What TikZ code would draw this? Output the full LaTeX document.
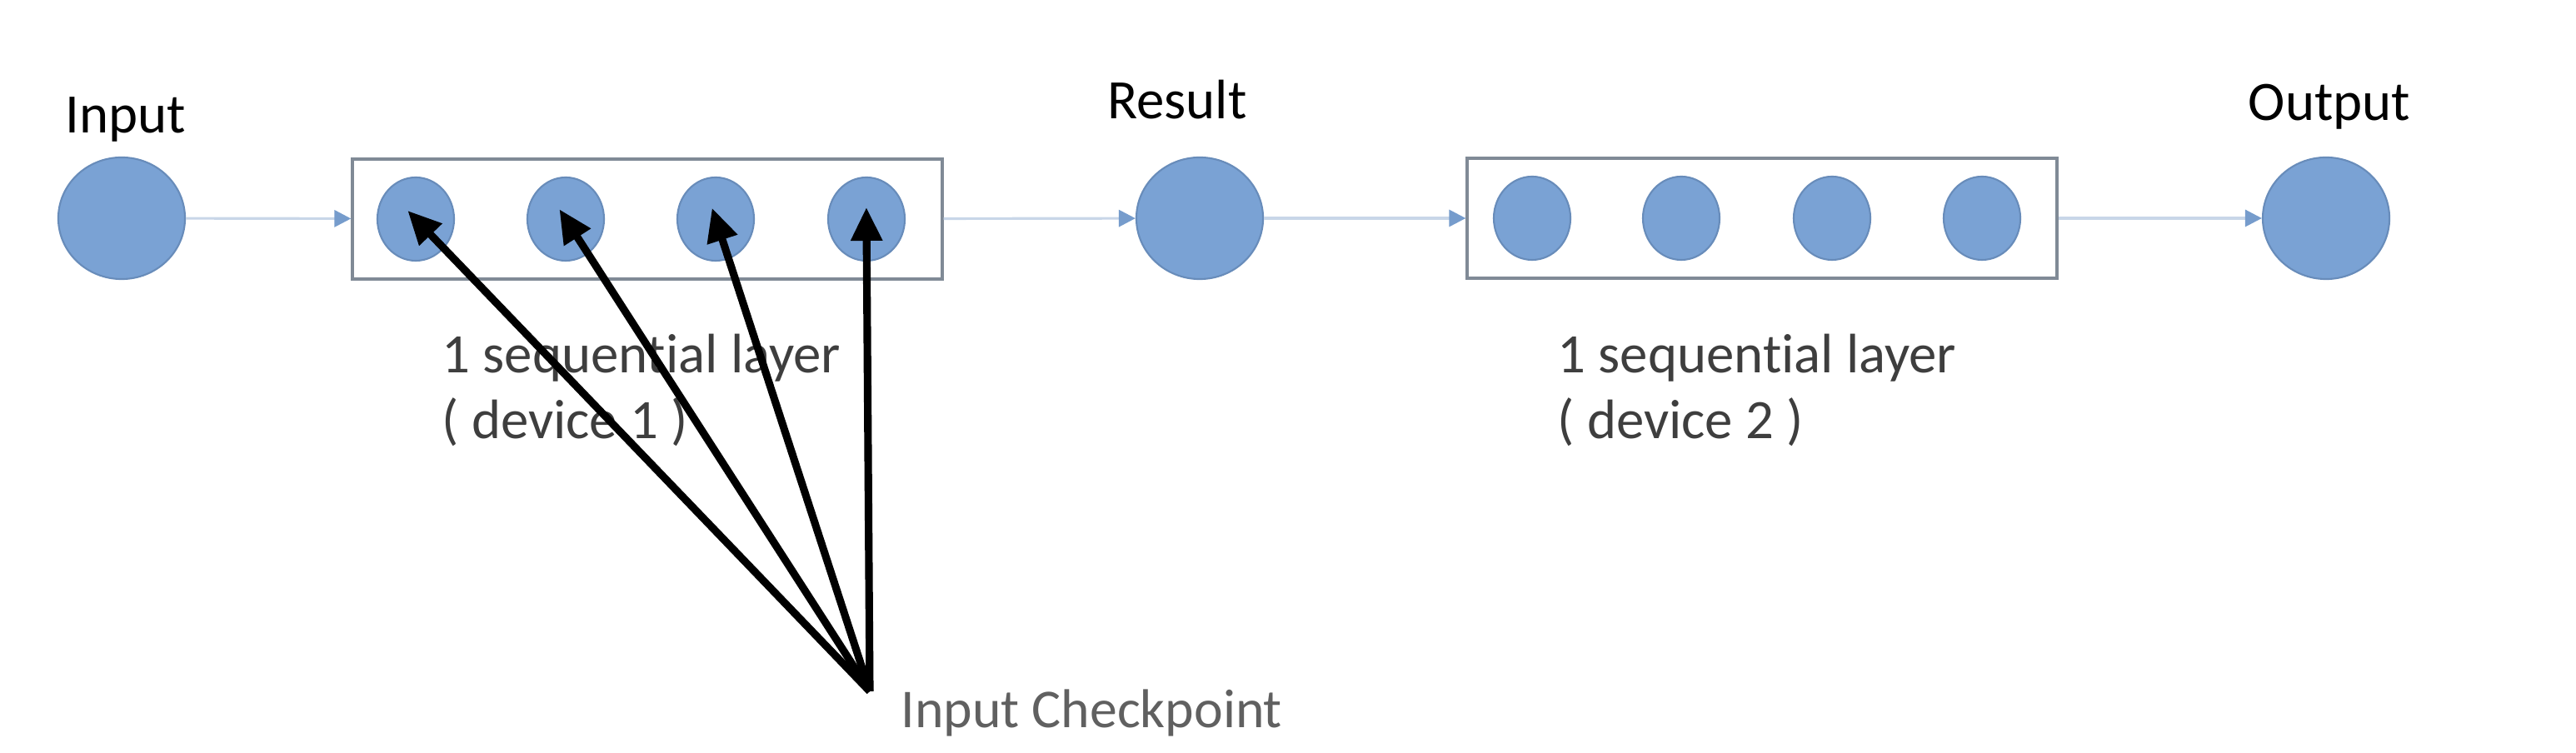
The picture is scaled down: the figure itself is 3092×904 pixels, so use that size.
\documentclass[tikz,border=0pt]{standalone}
\usepackage{fontspec}
\setmainfont{Carlito}[RawFeature={-liga;-clig;-dlig}]
\usepackage{tikz}
\usetikzlibrary{arrows.meta,shapes.geometric}
\definecolor{unitblue}{RGB}{122,162,212}
\definecolor{unitedge}{RGB}{104,140,186}
\definecolor{flowline}{RGB}{200,214,232}
\definecolor{flowhead}{RGB}{118,156,204}
\definecolor{boxgray}{RGB}{128,138,150}
\definecolor{labelgray}{RGB}{62,62,62}
\definecolor{notegray}{RGB}{96,96,96}

\begin{document}
\begin{tikzpicture}
[x=0.01cm,y=-0.01cm
,io/.style={ellipse,draw=unitedge,fill=unitblue,line width=0.6pt,minimum width=1.52cm,minimum height=1.46cm,inner sep=0pt}
,unit/.style={ellipse,draw=unitedge,fill=unitblue,line width=0.6pt,minimum width=0.92cm,minimum height=1.0cm,inner sep=0pt}
,layer/.style={rectangle,draw=boxgray,line width=1.1pt,minimum width=7.07cm,minimum height=1.44cm,inner sep=0pt}
,flow/.style={draw=flowline,line width=0.9pt,arrows={-Triangle[length=0.2cm,width=0.2cm,fill=flowhead,color=flowhead]}}
,chk/.style={draw=black,line width=2.6pt,arrows={-Triangle[length=0.4cm,width=0.36cm]},shorten >=-0.14cm}
,title/.style={font=\fontsize{19}{23}\selectfont,text=black,inner sep=0pt,anchor=base}
,desc/.style={font=\fontsize{19}{23}\selectfont,text=labelgray,inner sep=0pt,anchor=base west}]
\useasboundingbox (0,0) rectangle (3092,904);
% layers
\node[layer] (layerA) at (777,263) {};
\node[layer] (layerB) at (2115,262) {};
% input, result, output
\node[io] (inp) at (146,262) {};
\node[io] (res) at (1440,262) {};
\node[io] (out) at (2792,262) {};
\node[title] (inpLbl) at (151,160) {Input};
\node[title] (resLbl) at (1413,143) {Result};
\node[title] (outLbl) at (2796,145) {Output};
% units inside the layers
\foreach \i/\x in {1/499,2/679,3/859,4/1040}
  \node[unit] (a\i) at (\x,263) {};
\foreach \i/\x in {1/1839,2/2018,3/2199,4/2379}
  \node[unit] (b\i) at (\x,262) {};
\node[desc] (descA1) at (530,448) {1 sequential layer};
\node[desc] (descA2) at (530,527) {( device 1 )};
\node[desc] (descB1) at (1869,448) {1 sequential layer};
\node[desc] (descB2) at (1869,527) {( device 2 )};
% data flow
\draw[flow] (inp) -- (layerA);
\draw[flow] (layerA) -- (res);
\draw[flow] (res) -- (layerB);
\draw[flow] (layerB) -- (out);
% checkpoints
\coordinate (cp) at (1044,830);
\node[font=\fontsize{18.7}{22}\selectfont,text=notegray,inner sep=0pt,anchor=base west] (cpLbl) at (1081,873) {Input Checkpoint};
\foreach \i in {1,...,4}
  \draw[chk] (cp) -- (a\i.center);
\end{tikzpicture}
\end{document}
